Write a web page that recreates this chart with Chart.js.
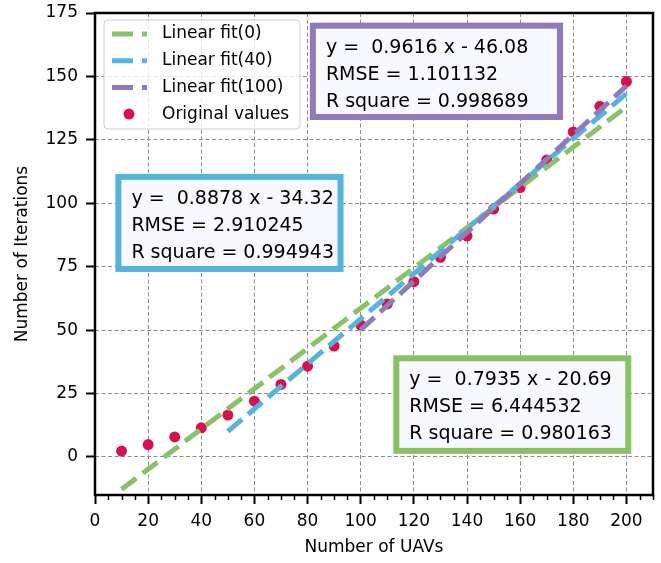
<!DOCTYPE html>
<html>
<head>
<meta charset="utf-8">
<script src="https://cdn.jsdelivr.net/npm/chart.js@4/dist/chart.umd.min.js"></script>
<style>
  html, body { margin: 0; padding: 0; background: #fff; }
</style>
</head>
<body>
<canvas id="chart" width="661" height="563"></canvas>
<script>
// data
const uavs = [10, 20, 30, 40, 50, 60, 70, 80, 90, 100, 110, 120, 130, 140, 150, 160, 170, 180, 190, 200];
const iterations = [2.3, 4.9, 7.9, 11.5, 16.5, 22.0, 28.6, 35.8, 43.7, 52.0, 60.3, 69.1, 78.7, 87.1, 97.7, 106.2, 117.1, 128.1, 138.2, 148.0];

// fitted line end points
const fit0X = [10, 200];
const fit0Y = [-12.76, 137.99];
const fit40X = [50, 200];
const fit40Y = [10.07, 143.24];
const fit100X = [100, 200];
const fit100Y = [50.08, 146.24];

const xTicks = [0, 20, 40, 60, 80, 100, 120, 140, 160, 180, 200];
const yTicks = [0, 25, 50, 75, 100, 125, 150, 175];

const fit0Text = ['y =  0.7935 x - 20.69', 'RMSE = 6.444532', 'R square = 0.980163'];
const fit40Text = ['y =  0.8878 x - 34.32', 'RMSE = 2.910245', 'R square = 0.994943'];
const fit100Text = ['y =  0.9616 x - 46.08', 'RMSE = 1.101132', 'R square = 0.998689'];

const GREEN = '#88c166';
const BLUE = '#56b3de';
const PURPLE = '#8f7bbb';
const RED = '#d5124f';
const FONT = "'DejaVu Sans', sans-serif";

const pts = (xs, ys) => xs.map((v, i) => ({ x: v, y: ys[i] }));

// text boxes, corners in data units
const boxes = [
  { lines: fit100Text, color: PURPLE, x0: 82, y0: 170, x1: 175, y1: 134 },
  { lines: fit40Text, color: BLUE, x0: 8.8, y0: 110.4, x1: 92.4, y1: 74.1 },
  { lines: fit0Text, color: GREEN, x0: 113.4, y0: 38.9, x1: 200.7, y1: 2.4 }
];

const decor = {
  id: 'decor',
  afterDatasetsDraw(chart) {
    const { ctx, scales: { x, y } } = chart;
    ctx.save();

    boxes.forEach(b => {
      const l = x.getPixelForValue(b.x0), r = x.getPixelForValue(b.x1);
      const t = y.getPixelForValue(b.y0), bt = y.getPixelForValue(b.y1);
      ctx.fillStyle = '#f8f8ff';
      ctx.fillRect(l, t, r - l, bt - t);
      ctx.lineWidth = 6;
      ctx.strokeStyle = b.color;
      ctx.strokeRect(l, t, r - l, bt - t);
      ctx.fillStyle = '#000';
      ctx.font = '19px ' + FONT;
      ctx.textBaseline = 'middle';
      ctx.textAlign = 'left';
      b.lines.forEach((s, i) => ctx.fillText(s, l + 13, t + 22 + i * 27));
    });

    // legend
    const lx = 104, ly = 20, lw = 196, lh = 109;
    ctx.beginPath();
    ctx.roundRect(lx, ly, lw, lh, 4);
    ctx.fillStyle = 'rgba(255,255,255,0.8)';
    ctx.fill();
    ctx.lineWidth = 1;
    ctx.strokeStyle = '#cccccc';
    ctx.stroke();

    const items = [chart.data.datasets[1], chart.data.datasets[2], chart.data.datasets[3], chart.data.datasets[0]];
    ctx.font = '17px ' + FONT;
    ctx.textBaseline = 'middle';
    items.forEach((ds, i) => {
      const cy = 34 + i * 26.7;
      if (ds.showLine) {
        ctx.strokeStyle = ds.borderColor;
        ctx.lineWidth = 5;
        ctx.setLineDash([21, 9]);
        ctx.beginPath();
        ctx.moveTo(112, cy);
        ctx.lineTo(147, cy);
        ctx.stroke();
        ctx.setLineDash([]);
      } else {
        ctx.fillStyle = ds.backgroundColor;
        ctx.beginPath();
        ctx.arc(129, cy, 5.5, 0, Math.PI * 2);
        ctx.fill();
      }
      ctx.fillStyle = '#000';
      ctx.fillText(ds.label, 162, cy);
    });
    ctx.restore();
  },
  afterDraw(chart) {
    const { ctx, chartArea: a, scales: { x } } = chart;
    ctx.save();
    // minor ticks on x
    ctx.strokeStyle = '#000';
    ctx.lineWidth = 1.5;
    for (let v = 5; v <= 210; v += 5) {
      if (v % 20 === 0) continue;
      const px = Math.round(x.getPixelForValue(v)) + 0.5;
      ctx.beginPath();
      ctx.moveTo(px, a.bottom);
      ctx.lineTo(px, a.bottom + 5);
      ctx.stroke();
    }
    // spines
    ctx.lineWidth = 2.5;
    ctx.strokeRect(a.left, a.top, a.right - a.left, a.bottom - a.top);
    ctx.restore();
  }
};

new Chart(document.getElementById('chart'), {
  type: 'scatter',
  data: {
    datasets: [
      {
        label: 'Original values',
        data: pts(uavs, iterations),
        backgroundColor: RED,
        borderColor: RED,
        pointRadius: 5.5,
        pointBorderWidth: 0,
        showLine: false,
        order: 4
      },
      {
        label: 'Linear fit(0)',
        data: pts(fit0X, fit0Y),
        showLine: true,
        borderColor: GREEN,
        borderWidth: 5,
        borderDash: [18.5, 8],
        borderCapStyle: 'butt',
        pointRadius: 0,
        order: 3
      },
      {
        label: 'Linear fit(40)',
        data: pts(fit40X, fit40Y),
        showLine: true,
        borderColor: BLUE,
        borderWidth: 5,
        borderDash: [18.5, 8],
        borderCapStyle: 'butt',
        pointRadius: 0,
        order: 2
      },
      {
        label: 'Linear fit(100)',
        data: pts(fit100X, fit100Y),
        showLine: true,
        borderColor: PURPLE,
        borderWidth: 5,
        borderDash: [18.5, 8],
        borderCapStyle: 'butt',
        pointRadius: 0,
        order: 1
      }
    ]
  },
  options: {
    responsive: false,
    animation: false,
    layout: { padding: { top: 13, right: 8, left: 0, bottom: 0 } },
    plugins: {
      legend: { display: false },
      tooltip: { enabled: false }
    },
    font: { family: FONT },
    scales: {
      x: {
        type: 'linear',
        min: 0,
        max: 210,
        afterBuildTicks: s => { s.ticks = xTicks.map(v => ({ value: v })); },
        afterFit: s => { s.height = 68; s.paddingLeft = 0; s.paddingRight = 0; },
        ticks: { color: '#000', font: { family: FONT, size: 17 }, padding: 7, maxRotation: 0, autoSkip: false },
        grid: { color: '#8c8c8c', lineWidth: 1, tickColor: '#000', tickLength: 9, tickWidth: 2 },
        border: { display: false, dash: [4, 2.5] },
        title: { display: true, text: 'Number of UAVs', color: '#000', font: { family: FONT, size: 17 }, padding: { top: 5, bottom: 5 } }
      },
      y: {
        type: 'linear',
        min: -15,
        max: 175,
        afterBuildTicks: s => { s.ticks = yTicks.map(v => ({ value: v })); },
        afterFit: s => { s.width = 95; s.paddingTop = 0; s.paddingBottom = 0; },
        ticks: { color: '#000', font: { family: FONT, size: 17 }, padding: 8, autoSkip: false },
        grid: { color: '#8c8c8c', lineWidth: 1, tickColor: '#000', tickLength: 9, tickWidth: 2 },
        border: { display: false, dash: [4, 2.5] },
        title: { display: true, text: 'Number of Iterations', color: '#000', font: { family: FONT, size: 17 }, padding: { top: 12, bottom: 0 } }
      }
    }
  },
  plugins: [decor]
});
</script>
</body>
</html>
